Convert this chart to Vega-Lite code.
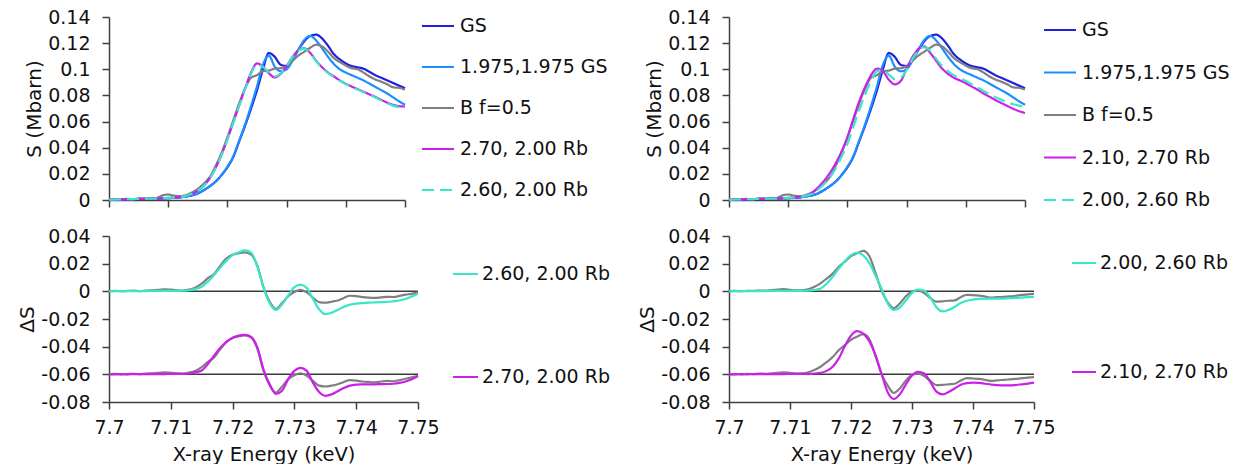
{
"$schema": "https://vega.github.io/schema/vega-lite/v6.json",
"background": "white",
"padding": {"left": 17, "top": 8, "right": 0, "bottom": 0},
"config": {
 "font": "DejaVu Sans",
 "view": {"stroke": null},
 "axis": {"grid": false, "domainColor": "#404040", "domainWidth": 1.5, "tickColor": "#404040", "tickWidth": 1.5, "tickSize": 7, "labelFont": "DejaVu Sans", "labelFontSize": 19, "labelColor": "#111111", "titleFont": "DejaVu Sans", "titleFontSize": 20, "titleFontWeight": "normal", "titleColor": "#111111", "labelOverlap": false, "labelBound": false},
 "axisY": {"labelPadding": 12, "titlePadding": 3},
 "axisX": {"labelPadding": 9, "titlePadding": 8, "titleFontSize": 19.5, "labelFlush": false},
 "legend": {"labelFont": "DejaVu Sans", "labelFontSize": 19, "labelColor": "#111111"}
},
"datasets": {
"common": [
{"s":"GS","x":7.7,"y":0},{"s":"GS","x":7.701,"y":0.0003},{"s":"GS","x":7.702,"y":0.0005},{"s":"GS","x":7.703,"y":0.0006},{"s":"GS","x":7.704,"y":0.0007},{"s":"GS","x":7.705,"y":0.0008},{"s":"GS","x":7.706,"y":0.0009},{"s":"GS","x":7.707,"y":0.001},{"s":"GS","x":7.708,"y":0.001},{"s":"GS","x":7.709,"y":0.0012},
{"s":"GS","x":7.71,"y":0.0014},{"s":"GS","x":7.711,"y":0.0017},{"s":"GS","x":7.712,"y":0.002},{"s":"GS","x":7.713,"y":0.0027},{"s":"GS","x":7.714,"y":0.0036},{"s":"GS","x":7.715,"y":0.005},{"s":"GS","x":7.716,"y":0.0075},{"s":"GS","x":7.717,"y":0.0105},{"s":"GS","x":7.718,"y":0.014},{"s":"GS","x":7.719,"y":0.019},
{"s":"GS","x":7.72,"y":0.025},{"s":"GS","x":7.721,"y":0.033},{"s":"GS","x":7.722,"y":0.045},{"s":"GS","x":7.723,"y":0.057},{"s":"GS","x":7.724,"y":0.07},{"s":"GS","x":7.725,"y":0.084},{"s":"GS","x":7.726,"y":0.1},{"s":"GS","x":7.727,"y":0.1125},{"s":"GS","x":7.728,"y":0.1095},{"s":"GS","x":7.729,"y":0.1035},
{"s":"GS","x":7.73,"y":0.1025},{"s":"GS","x":7.731,"y":0.1075},{"s":"GS","x":7.732,"y":0.115},{"s":"GS","x":7.733,"y":0.1215},{"s":"GS","x":7.734,"y":0.1255},{"s":"GS","x":7.735,"y":0.1265},{"s":"GS","x":7.736,"y":0.1235},{"s":"GS","x":7.737,"y":0.118},{"s":"GS","x":7.738,"y":0.1115},{"s":"GS","x":7.739,"y":0.1075},
{"s":"GS","x":7.74,"y":0.1045},{"s":"GS","x":7.741,"y":0.1025},{"s":"GS","x":7.742,"y":0.1015},{"s":"GS","x":7.743,"y":0.1005},{"s":"GS","x":7.744,"y":0.098},{"s":"GS","x":7.745,"y":0.0955},{"s":"GS","x":7.746,"y":0.0935},{"s":"GS","x":7.747,"y":0.0915},{"s":"GS","x":7.748,"y":0.0895},{"s":"GS","x":7.749,"y":0.0875},{"s":"GS","x":7.75,"y":0.0855},
{"s":"1.975,1.975 GS","x":7.7,"y":0},{"s":"1.975,1.975 GS","x":7.701,"y":0.0003},{"s":"1.975,1.975 GS","x":7.702,"y":0.0005},{"s":"1.975,1.975 GS","x":7.703,"y":0.0006},{"s":"1.975,1.975 GS","x":7.704,"y":0.0007},{"s":"1.975,1.975 GS","x":7.705,"y":0.0008},{"s":"1.975,1.975 GS","x":7.706,"y":0.0009},{"s":"1.975,1.975 GS","x":7.707,"y":0.001},{"s":"1.975,1.975 GS","x":7.708,"y":0.001},{"s":"1.975,1.975 GS","x":7.709,"y":0.0012},
{"s":"1.975,1.975 GS","x":7.71,"y":0.0014},{"s":"1.975,1.975 GS","x":7.711,"y":0.0017},{"s":"1.975,1.975 GS","x":7.712,"y":0.002},{"s":"1.975,1.975 GS","x":7.713,"y":0.0027},{"s":"1.975,1.975 GS","x":7.714,"y":0.0036},{"s":"1.975,1.975 GS","x":7.715,"y":0.005},{"s":"1.975,1.975 GS","x":7.716,"y":0.0075},{"s":"1.975,1.975 GS","x":7.717,"y":0.0105},{"s":"1.975,1.975 GS","x":7.718,"y":0.014},{"s":"1.975,1.975 GS","x":7.719,"y":0.019},
{"s":"1.975,1.975 GS","x":7.72,"y":0.0255},{"s":"1.975,1.975 GS","x":7.721,"y":0.0335},{"s":"1.975,1.975 GS","x":7.722,"y":0.0455},{"s":"1.975,1.975 GS","x":7.723,"y":0.058},{"s":"1.975,1.975 GS","x":7.724,"y":0.072},{"s":"1.975,1.975 GS","x":7.725,"y":0.087},{"s":"1.975,1.975 GS","x":7.726,"y":0.1035},{"s":"1.975,1.975 GS","x":7.727,"y":0.1105},{"s":"1.975,1.975 GS","x":7.728,"y":0.102},{"s":"1.975,1.975 GS","x":7.729,"y":0.0985},
{"s":"1.975,1.975 GS","x":7.73,"y":0.1},{"s":"1.975,1.975 GS","x":7.731,"y":0.1065},{"s":"1.975,1.975 GS","x":7.732,"y":0.115},{"s":"1.975,1.975 GS","x":7.733,"y":0.1225},{"s":"1.975,1.975 GS","x":7.734,"y":0.1255},{"s":"1.975,1.975 GS","x":7.735,"y":0.122},{"s":"1.975,1.975 GS","x":7.736,"y":0.116},{"s":"1.975,1.975 GS","x":7.737,"y":0.1095},{"s":"1.975,1.975 GS","x":7.738,"y":0.104},{"s":"1.975,1.975 GS","x":7.739,"y":0.1},
{"s":"1.975,1.975 GS","x":7.74,"y":0.0975},{"s":"1.975,1.975 GS","x":7.741,"y":0.0955},{"s":"1.975,1.975 GS","x":7.742,"y":0.0935},{"s":"1.975,1.975 GS","x":7.743,"y":0.0915},{"s":"1.975,1.975 GS","x":7.744,"y":0.089},{"s":"1.975,1.975 GS","x":7.745,"y":0.0865},{"s":"1.975,1.975 GS","x":7.746,"y":0.084},{"s":"1.975,1.975 GS","x":7.747,"y":0.0815},{"s":"1.975,1.975 GS","x":7.748,"y":0.0785},{"s":"1.975,1.975 GS","x":7.749,"y":0.0755},{"s":"1.975,1.975 GS","x":7.75,"y":0.0728},
{"s":"B f=0.5","x":7.7,"y":0.0003},{"s":"B f=0.5","x":7.701,"y":0.0005},{"s":"B f=0.5","x":7.702,"y":0.0006},{"s":"B f=0.5","x":7.703,"y":0.0008},{"s":"B f=0.5","x":7.704,"y":0.0007},{"s":"B f=0.5","x":7.705,"y":0.001},{"s":"B f=0.5","x":7.706,"y":0.0009},{"s":"B f=0.5","x":7.707,"y":0.0012},{"s":"B f=0.5","x":7.708,"y":0.0015},{"s":"B f=0.5","x":7.709,"y":0.0035},
{"s":"B f=0.5","x":7.71,"y":0.0042},{"s":"B f=0.5","x":7.711,"y":0.0033},{"s":"B f=0.5","x":7.712,"y":0.003},{"s":"B f=0.5","x":7.713,"y":0.0038},{"s":"B f=0.5","x":7.714,"y":0.0058},{"s":"B f=0.5","x":7.715,"y":0.0085},{"s":"B f=0.5","x":7.716,"y":0.0125},{"s":"B f=0.5","x":7.717,"y":0.0175},{"s":"B f=0.5","x":7.718,"y":0.026},{"s":"B f=0.5","x":7.719,"y":0.036},
{"s":"B f=0.5","x":7.72,"y":0.048},{"s":"B f=0.5","x":7.721,"y":0.061},{"s":"B f=0.5","x":7.722,"y":0.074},{"s":"B f=0.5","x":7.723,"y":0.0855},{"s":"B f=0.5","x":7.724,"y":0.0935},{"s":"B f=0.5","x":7.725,"y":0.0955},{"s":"B f=0.5","x":7.726,"y":0.0985},{"s":"B f=0.5","x":7.727,"y":0.099},{"s":"B f=0.5","x":7.728,"y":0.1005},{"s":"B f=0.5","x":7.729,"y":0.1008},
{"s":"B f=0.5","x":7.73,"y":0.1025},{"s":"B f=0.5","x":7.731,"y":0.1065},{"s":"B f=0.5","x":7.732,"y":0.1105},{"s":"B f=0.5","x":7.733,"y":0.1135},{"s":"B f=0.5","x":7.734,"y":0.1165},{"s":"B f=0.5","x":7.735,"y":0.1188},{"s":"B f=0.5","x":7.736,"y":0.1175},{"s":"B f=0.5","x":7.737,"y":0.1135},{"s":"B f=0.5","x":7.738,"y":0.1085},{"s":"B f=0.5","x":7.739,"y":0.1055},
{"s":"B f=0.5","x":7.74,"y":0.1028},{"s":"B f=0.5","x":7.741,"y":0.1008},{"s":"B f=0.5","x":7.742,"y":0.1},{"s":"B f=0.5","x":7.743,"y":0.0975},{"s":"B f=0.5","x":7.744,"y":0.0945},{"s":"B f=0.5","x":7.745,"y":0.0922},{"s":"B f=0.5","x":7.746,"y":0.0905},{"s":"B f=0.5","x":7.747,"y":0.0885},{"s":"B f=0.5","x":7.748,"y":0.0862},{"s":"B f=0.5","x":7.749,"y":0.0858},{"s":"B f=0.5","x":7.75,"y":0.0845}
],
"rbL": [
{"s":"2.70, 2.00 Rb","x":7.7,"y":0.0003},{"s":"2.70, 2.00 Rb","x":7.701,"y":0.0004},{"s":"2.70, 2.00 Rb","x":7.702,"y":0.0005},{"s":"2.70, 2.00 Rb","x":7.703,"y":0.0006},{"s":"2.70, 2.00 Rb","x":7.704,"y":0.0007},{"s":"2.70, 2.00 Rb","x":7.705,"y":0.0008},{"s":"2.70, 2.00 Rb","x":7.706,"y":0.0009},{"s":"2.70, 2.00 Rb","x":7.707,"y":0.001},{"s":"2.70, 2.00 Rb","x":7.708,"y":0.0011},{"s":"2.70, 2.00 Rb","x":7.709,"y":0.0013},
{"s":"2.70, 2.00 Rb","x":7.71,"y":0.0016},{"s":"2.70, 2.00 Rb","x":7.711,"y":0.002},{"s":"2.70, 2.00 Rb","x":7.712,"y":0.0025},{"s":"2.70, 2.00 Rb","x":7.713,"y":0.0032},{"s":"2.70, 2.00 Rb","x":7.714,"y":0.0048},{"s":"2.70, 2.00 Rb","x":7.715,"y":0.0072},{"s":"2.70, 2.00 Rb","x":7.716,"y":0.011},{"s":"2.70, 2.00 Rb","x":7.717,"y":0.0165},{"s":"2.70, 2.00 Rb","x":7.718,"y":0.0245},{"s":"2.70, 2.00 Rb","x":7.719,"y":0.0345},
{"s":"2.70, 2.00 Rb","x":7.72,"y":0.0465},{"s":"2.70, 2.00 Rb","x":7.721,"y":0.0595},{"s":"2.70, 2.00 Rb","x":7.722,"y":0.0725},{"s":"2.70, 2.00 Rb","x":7.723,"y":0.0855},{"s":"2.70, 2.00 Rb","x":7.724,"y":0.0975},{"s":"2.70, 2.00 Rb","x":7.725,"y":0.1045},{"s":"2.70, 2.00 Rb","x":7.726,"y":0.102},{"s":"2.70, 2.00 Rb","x":7.727,"y":0.097},{"s":"2.70, 2.00 Rb","x":7.728,"y":0.0938},{"s":"2.70, 2.00 Rb","x":7.729,"y":0.0965},
{"s":"2.70, 2.00 Rb","x":7.73,"y":0.1025},{"s":"2.70, 2.00 Rb","x":7.731,"y":0.1095},{"s":"2.70, 2.00 Rb","x":7.732,"y":0.1145},{"s":"2.70, 2.00 Rb","x":7.733,"y":0.116},{"s":"2.70, 2.00 Rb","x":7.734,"y":0.1125},{"s":"2.70, 2.00 Rb","x":7.735,"y":0.1065},{"s":"2.70, 2.00 Rb","x":7.736,"y":0.1015},{"s":"2.70, 2.00 Rb","x":7.737,"y":0.0975},{"s":"2.70, 2.00 Rb","x":7.738,"y":0.0945},{"s":"2.70, 2.00 Rb","x":7.739,"y":0.0915},
{"s":"2.70, 2.00 Rb","x":7.74,"y":0.089},{"s":"2.70, 2.00 Rb","x":7.741,"y":0.0868},{"s":"2.70, 2.00 Rb","x":7.742,"y":0.0848},{"s":"2.70, 2.00 Rb","x":7.743,"y":0.0828},{"s":"2.70, 2.00 Rb","x":7.744,"y":0.0808},{"s":"2.70, 2.00 Rb","x":7.745,"y":0.0788},{"s":"2.70, 2.00 Rb","x":7.746,"y":0.0766},{"s":"2.70, 2.00 Rb","x":7.747,"y":0.0745},{"s":"2.70, 2.00 Rb","x":7.748,"y":0.0728},{"s":"2.70, 2.00 Rb","x":7.749,"y":0.0718},{"s":"2.70, 2.00 Rb","x":7.75,"y":0.0715},
{"s":"2.60, 2.00 Rb","x":7.7,"y":0.0003},{"s":"2.60, 2.00 Rb","x":7.701,"y":0.0004},{"s":"2.60, 2.00 Rb","x":7.702,"y":0.0005},{"s":"2.60, 2.00 Rb","x":7.703,"y":0.0006},{"s":"2.60, 2.00 Rb","x":7.704,"y":0.0007},{"s":"2.60, 2.00 Rb","x":7.705,"y":0.0008},{"s":"2.60, 2.00 Rb","x":7.706,"y":0.0009},{"s":"2.60, 2.00 Rb","x":7.707,"y":0.001},{"s":"2.60, 2.00 Rb","x":7.708,"y":0.0011},{"s":"2.60, 2.00 Rb","x":7.709,"y":0.0013},
{"s":"2.60, 2.00 Rb","x":7.71,"y":0.0016},{"s":"2.60, 2.00 Rb","x":7.711,"y":0.002},{"s":"2.60, 2.00 Rb","x":7.712,"y":0.0025},{"s":"2.60, 2.00 Rb","x":7.713,"y":0.0032},{"s":"2.60, 2.00 Rb","x":7.714,"y":0.0047},{"s":"2.60, 2.00 Rb","x":7.715,"y":0.0071},{"s":"2.60, 2.00 Rb","x":7.716,"y":0.0108},{"s":"2.60, 2.00 Rb","x":7.717,"y":0.0163},{"s":"2.60, 2.00 Rb","x":7.718,"y":0.0243},{"s":"2.60, 2.00 Rb","x":7.719,"y":0.0343},
{"s":"2.60, 2.00 Rb","x":7.72,"y":0.0462},{"s":"2.60, 2.00 Rb","x":7.721,"y":0.0592},{"s":"2.60, 2.00 Rb","x":7.722,"y":0.0722},{"s":"2.60, 2.00 Rb","x":7.723,"y":0.0852},{"s":"2.60, 2.00 Rb","x":7.724,"y":0.0968},{"s":"2.60, 2.00 Rb","x":7.725,"y":0.1035},{"s":"2.60, 2.00 Rb","x":7.726,"y":0.1018},{"s":"2.60, 2.00 Rb","x":7.727,"y":0.0975},{"s":"2.60, 2.00 Rb","x":7.728,"y":0.0945},{"s":"2.60, 2.00 Rb","x":7.729,"y":0.0968},
{"s":"2.60, 2.00 Rb","x":7.73,"y":0.1025},{"s":"2.60, 2.00 Rb","x":7.731,"y":0.1092},{"s":"2.60, 2.00 Rb","x":7.732,"y":0.1142},{"s":"2.60, 2.00 Rb","x":7.733,"y":0.1158},{"s":"2.60, 2.00 Rb","x":7.734,"y":0.1122},{"s":"2.60, 2.00 Rb","x":7.735,"y":0.1062},{"s":"2.60, 2.00 Rb","x":7.736,"y":0.1012},{"s":"2.60, 2.00 Rb","x":7.737,"y":0.0972},{"s":"2.60, 2.00 Rb","x":7.738,"y":0.0942},{"s":"2.60, 2.00 Rb","x":7.739,"y":0.0912},
{"s":"2.60, 2.00 Rb","x":7.74,"y":0.0887},{"s":"2.60, 2.00 Rb","x":7.741,"y":0.0865},{"s":"2.60, 2.00 Rb","x":7.742,"y":0.0845},{"s":"2.60, 2.00 Rb","x":7.743,"y":0.0825},{"s":"2.60, 2.00 Rb","x":7.744,"y":0.0805},{"s":"2.60, 2.00 Rb","x":7.745,"y":0.0784},{"s":"2.60, 2.00 Rb","x":7.746,"y":0.0762},{"s":"2.60, 2.00 Rb","x":7.747,"y":0.0741},{"s":"2.60, 2.00 Rb","x":7.748,"y":0.0722},{"s":"2.60, 2.00 Rb","x":7.749,"y":0.071},{"s":"2.60, 2.00 Rb","x":7.75,"y":0.0705}
],
"rbR": [
{"s":"2.10, 2.70 Rb","x":7.7,"y":0.0003},{"s":"2.10, 2.70 Rb","x":7.701,"y":0.0004},{"s":"2.10, 2.70 Rb","x":7.702,"y":0.0005},{"s":"2.10, 2.70 Rb","x":7.703,"y":0.0006},{"s":"2.10, 2.70 Rb","x":7.704,"y":0.0007},{"s":"2.10, 2.70 Rb","x":7.705,"y":0.0008},{"s":"2.10, 2.70 Rb","x":7.706,"y":0.0009},{"s":"2.10, 2.70 Rb","x":7.707,"y":0.001},{"s":"2.10, 2.70 Rb","x":7.708,"y":0.0011},{"s":"2.10, 2.70 Rb","x":7.709,"y":0.0013},
{"s":"2.10, 2.70 Rb","x":7.71,"y":0.0016},{"s":"2.10, 2.70 Rb","x":7.711,"y":0.002},{"s":"2.10, 2.70 Rb","x":7.712,"y":0.0025},{"s":"2.10, 2.70 Rb","x":7.713,"y":0.0035},{"s":"2.10, 2.70 Rb","x":7.714,"y":0.0055},{"s":"2.10, 2.70 Rb","x":7.715,"y":0.0095},{"s":"2.10, 2.70 Rb","x":7.716,"y":0.0145},{"s":"2.10, 2.70 Rb","x":7.717,"y":0.0205},{"s":"2.10, 2.70 Rb","x":7.718,"y":0.028},{"s":"2.10, 2.70 Rb","x":7.719,"y":0.037},
{"s":"2.10, 2.70 Rb","x":7.72,"y":0.048},{"s":"2.10, 2.70 Rb","x":7.721,"y":0.062},{"s":"2.10, 2.70 Rb","x":7.722,"y":0.0755},{"s":"2.10, 2.70 Rb","x":7.723,"y":0.0865},{"s":"2.10, 2.70 Rb","x":7.724,"y":0.0955},{"s":"2.10, 2.70 Rb","x":7.725,"y":0.1005},{"s":"2.10, 2.70 Rb","x":7.726,"y":0.0985},{"s":"2.10, 2.70 Rb","x":7.727,"y":0.092},{"s":"2.10, 2.70 Rb","x":7.728,"y":0.0885},{"s":"2.10, 2.70 Rb","x":7.729,"y":0.091},
{"s":"2.10, 2.70 Rb","x":7.73,"y":0.1005},{"s":"2.10, 2.70 Rb","x":7.731,"y":0.1095},{"s":"2.10, 2.70 Rb","x":7.732,"y":0.1155},{"s":"2.10, 2.70 Rb","x":7.733,"y":0.1175},{"s":"2.10, 2.70 Rb","x":7.734,"y":0.1125},{"s":"2.10, 2.70 Rb","x":7.735,"y":0.1065},{"s":"2.10, 2.70 Rb","x":7.736,"y":0.1005},{"s":"2.10, 2.70 Rb","x":7.737,"y":0.0965},{"s":"2.10, 2.70 Rb","x":7.738,"y":0.0935},{"s":"2.10, 2.70 Rb","x":7.739,"y":0.0915},
{"s":"2.10, 2.70 Rb","x":7.74,"y":0.0893},{"s":"2.10, 2.70 Rb","x":7.741,"y":0.0868},{"s":"2.10, 2.70 Rb","x":7.742,"y":0.0843},{"s":"2.10, 2.70 Rb","x":7.743,"y":0.0815},{"s":"2.10, 2.70 Rb","x":7.744,"y":0.079},{"s":"2.10, 2.70 Rb","x":7.745,"y":0.0765},{"s":"2.10, 2.70 Rb","x":7.746,"y":0.0742},{"s":"2.10, 2.70 Rb","x":7.747,"y":0.072},{"s":"2.10, 2.70 Rb","x":7.748,"y":0.0698},{"s":"2.10, 2.70 Rb","x":7.749,"y":0.068},{"s":"2.10, 2.70 Rb","x":7.75,"y":0.0666},
{"s":"2.00, 2.60 Rb","x":7.7,"y":0.0003},{"s":"2.00, 2.60 Rb","x":7.701,"y":0.0004},{"s":"2.00, 2.60 Rb","x":7.702,"y":0.0005},{"s":"2.00, 2.60 Rb","x":7.703,"y":0.0006},{"s":"2.00, 2.60 Rb","x":7.704,"y":0.0007},{"s":"2.00, 2.60 Rb","x":7.705,"y":0.0008},{"s":"2.00, 2.60 Rb","x":7.706,"y":0.0009},{"s":"2.00, 2.60 Rb","x":7.707,"y":0.001},{"s":"2.00, 2.60 Rb","x":7.708,"y":0.0011},{"s":"2.00, 2.60 Rb","x":7.709,"y":0.0013},
{"s":"2.00, 2.60 Rb","x":7.71,"y":0.0016},{"s":"2.00, 2.60 Rb","x":7.711,"y":0.002},{"s":"2.00, 2.60 Rb","x":7.712,"y":0.0025},{"s":"2.00, 2.60 Rb","x":7.713,"y":0.0032},{"s":"2.00, 2.60 Rb","x":7.714,"y":0.0048},{"s":"2.00, 2.60 Rb","x":7.715,"y":0.0078},{"s":"2.00, 2.60 Rb","x":7.716,"y":0.012},{"s":"2.00, 2.60 Rb","x":7.717,"y":0.017},{"s":"2.00, 2.60 Rb","x":7.718,"y":0.024},{"s":"2.00, 2.60 Rb","x":7.719,"y":0.033},
{"s":"2.00, 2.60 Rb","x":7.72,"y":0.043},{"s":"2.00, 2.60 Rb","x":7.721,"y":0.056},{"s":"2.00, 2.60 Rb","x":7.722,"y":0.069},{"s":"2.00, 2.60 Rb","x":7.723,"y":0.081},{"s":"2.00, 2.60 Rb","x":7.724,"y":0.091},{"s":"2.00, 2.60 Rb","x":7.725,"y":0.0985},{"s":"2.00, 2.60 Rb","x":7.726,"y":0.0995},{"s":"2.00, 2.60 Rb","x":7.727,"y":0.096},{"s":"2.00, 2.60 Rb","x":7.728,"y":0.0925},{"s":"2.00, 2.60 Rb","x":7.729,"y":0.0935},
{"s":"2.00, 2.60 Rb","x":7.73,"y":0.0995},{"s":"2.00, 2.60 Rb","x":7.731,"y":0.108},{"s":"2.00, 2.60 Rb","x":7.732,"y":0.1145},{"s":"2.00, 2.60 Rb","x":7.733,"y":0.117},{"s":"2.00, 2.60 Rb","x":7.734,"y":0.114},{"s":"2.00, 2.60 Rb","x":7.735,"y":0.108},{"s":"2.00, 2.60 Rb","x":7.736,"y":0.1025},{"s":"2.00, 2.60 Rb","x":7.737,"y":0.0985},{"s":"2.00, 2.60 Rb","x":7.738,"y":0.0955},{"s":"2.00, 2.60 Rb","x":7.739,"y":0.0932},
{"s":"2.00, 2.60 Rb","x":7.74,"y":0.091},{"s":"2.00, 2.60 Rb","x":7.741,"y":0.0885},{"s":"2.00, 2.60 Rb","x":7.742,"y":0.086},{"s":"2.00, 2.60 Rb","x":7.743,"y":0.0835},{"s":"2.00, 2.60 Rb","x":7.744,"y":0.081},{"s":"2.00, 2.60 Rb","x":7.745,"y":0.0787},{"s":"2.00, 2.60 Rb","x":7.746,"y":0.0767},{"s":"2.00, 2.60 Rb","x":7.747,"y":0.0748},{"s":"2.00, 2.60 Rb","x":7.748,"y":0.0732},{"s":"2.00, 2.60 Rb","x":7.749,"y":0.0722},{"s":"2.00, 2.60 Rb","x":7.75,"y":0.0716}
],
"botL": [
{"s":"B f=0.5","g":"u","x":7.7,"y":0.0002},{"s":"B f=0.5","g":"u","x":7.701,"y":0.0004},{"s":"B f=0.5","g":"u","x":7.702,"y":0.0001},{"s":"B f=0.5","g":"u","x":7.703,"y":0.0003},{"s":"B f=0.5","g":"u","x":7.704,"y":0.0005},{"s":"B f=0.5","g":"u","x":7.705,"y":0.0002},{"s":"B f=0.5","g":"u","x":7.706,"y":0.0006},{"s":"B f=0.5","g":"u","x":7.707,"y":0.0008},{"s":"B f=0.5","g":"u","x":7.708,"y":0.001},{"s":"B f=0.5","g":"u","x":7.709,"y":0.0015},
{"s":"B f=0.5","g":"u","x":7.71,"y":0.0012},{"s":"B f=0.5","g":"u","x":7.711,"y":0.0008},{"s":"B f=0.5","g":"u","x":7.712,"y":0.0006},{"s":"B f=0.5","g":"u","x":7.713,"y":0.0012},{"s":"B f=0.5","g":"u","x":7.714,"y":0.0028},{"s":"B f=0.5","g":"u","x":7.715,"y":0.0055},{"s":"B f=0.5","g":"u","x":7.716,"y":0.0095},{"s":"B f=0.5","g":"u","x":7.717,"y":0.0125},{"s":"B f=0.5","g":"u","x":7.718,"y":0.0185},{"s":"B f=0.5","g":"u","x":7.719,"y":0.0238},
{"s":"B f=0.5","g":"u","x":7.72,"y":0.0265},{"s":"B f=0.5","g":"u","x":7.721,"y":0.0275},{"s":"B f=0.5","g":"u","x":7.722,"y":0.0282},{"s":"B f=0.5","g":"u","x":7.723,"y":0.0265},{"s":"B f=0.5","g":"u","x":7.724,"y":0.0185},{"s":"B f=0.5","g":"u","x":7.725,"y":0.003},{"s":"B f=0.5","g":"u","x":7.726,"y":-0.0075},{"s":"B f=0.5","g":"u","x":7.727,"y":-0.0128},{"s":"B f=0.5","g":"u","x":7.728,"y":-0.0085},{"s":"B f=0.5","g":"u","x":7.729,"y":-0.0035},
{"s":"B f=0.5","g":"u","x":7.73,"y":-0.0005},{"s":"B f=0.5","g":"u","x":7.731,"y":0.0011},{"s":"B f=0.5","g":"u","x":7.732,"y":-0.0008},{"s":"B f=0.5","g":"u","x":7.733,"y":-0.0045},{"s":"B f=0.5","g":"u","x":7.734,"y":-0.0078},{"s":"B f=0.5","g":"u","x":7.735,"y":-0.0082},{"s":"B f=0.5","g":"u","x":7.736,"y":-0.0075},{"s":"B f=0.5","g":"u","x":7.737,"y":-0.0066},{"s":"B f=0.5","g":"u","x":7.738,"y":-0.0048},{"s":"B f=0.5","g":"u","x":7.739,"y":-0.0032},
{"s":"B f=0.5","g":"u","x":7.74,"y":-0.0035},{"s":"B f=0.5","g":"u","x":7.741,"y":-0.0042},{"s":"B f=0.5","g":"u","x":7.742,"y":-0.0046},{"s":"B f=0.5","g":"u","x":7.743,"y":-0.0048},{"s":"B f=0.5","g":"u","x":7.744,"y":-0.0044},{"s":"B f=0.5","g":"u","x":7.745,"y":-0.004},{"s":"B f=0.5","g":"u","x":7.746,"y":-0.0041},{"s":"B f=0.5","g":"u","x":7.747,"y":-0.0033},{"s":"B f=0.5","g":"u","x":7.748,"y":-0.0024},{"s":"B f=0.5","g":"u","x":7.749,"y":-0.0018},{"s":"B f=0.5","g":"u","x":7.75,"y":-0.0008},
{"s":"2.60, 2.00 Rb","g":"c","x":7.7,"y":0},{"s":"2.60, 2.00 Rb","g":"c","x":7.701,"y":0.0001},{"s":"2.60, 2.00 Rb","g":"c","x":7.702,"y":0.0001},{"s":"2.60, 2.00 Rb","g":"c","x":7.703,"y":0.0002},{"s":"2.60, 2.00 Rb","g":"c","x":7.704,"y":0.0001},{"s":"2.60, 2.00 Rb","g":"c","x":7.705,"y":0.0002},{"s":"2.60, 2.00 Rb","g":"c","x":7.706,"y":0.0002},{"s":"2.60, 2.00 Rb","g":"c","x":7.707,"y":0.0003},{"s":"2.60, 2.00 Rb","g":"c","x":7.708,"y":0.0003},{"s":"2.60, 2.00 Rb","g":"c","x":7.709,"y":0.0004},
{"s":"2.60, 2.00 Rb","g":"c","x":7.71,"y":0.0004},{"s":"2.60, 2.00 Rb","g":"c","x":7.711,"y":0.0004},{"s":"2.60, 2.00 Rb","g":"c","x":7.712,"y":0.0005},{"s":"2.60, 2.00 Rb","g":"c","x":7.713,"y":0.0008},{"s":"2.60, 2.00 Rb","g":"c","x":7.714,"y":0.0018},{"s":"2.60, 2.00 Rb","g":"c","x":7.715,"y":0.0033},{"s":"2.60, 2.00 Rb","g":"c","x":7.716,"y":0.007},{"s":"2.60, 2.00 Rb","g":"c","x":7.717,"y":0.0118},{"s":"2.60, 2.00 Rb","g":"c","x":7.718,"y":0.0172},{"s":"2.60, 2.00 Rb","g":"c","x":7.719,"y":0.0222},
{"s":"2.60, 2.00 Rb","g":"c","x":7.72,"y":0.0262},{"s":"2.60, 2.00 Rb","g":"c","x":7.721,"y":0.0282},{"s":"2.60, 2.00 Rb","g":"c","x":7.722,"y":0.0296},{"s":"2.60, 2.00 Rb","g":"c","x":7.723,"y":0.028},{"s":"2.60, 2.00 Rb","g":"c","x":7.724,"y":0.018},{"s":"2.60, 2.00 Rb","g":"c","x":7.725,"y":0.0025},{"s":"2.60, 2.00 Rb","g":"c","x":7.726,"y":-0.0085},{"s":"2.60, 2.00 Rb","g":"c","x":7.727,"y":-0.0135},{"s":"2.60, 2.00 Rb","g":"c","x":7.728,"y":-0.0095},{"s":"2.60, 2.00 Rb","g":"c","x":7.729,"y":-0.003},
{"s":"2.60, 2.00 Rb","g":"c","x":7.73,"y":0.003},{"s":"2.60, 2.00 Rb","g":"c","x":7.731,"y":0.0048},{"s":"2.60, 2.00 Rb","g":"c","x":7.732,"y":0.0025},{"s":"2.60, 2.00 Rb","g":"c","x":7.733,"y":-0.0055},{"s":"2.60, 2.00 Rb","g":"c","x":7.734,"y":-0.013},{"s":"2.60, 2.00 Rb","g":"c","x":7.735,"y":-0.0165},{"s":"2.60, 2.00 Rb","g":"c","x":7.736,"y":-0.0155},{"s":"2.60, 2.00 Rb","g":"c","x":7.737,"y":-0.0135},{"s":"2.60, 2.00 Rb","g":"c","x":7.738,"y":-0.0112},{"s":"2.60, 2.00 Rb","g":"c","x":7.739,"y":-0.0096},
{"s":"2.60, 2.00 Rb","g":"c","x":7.74,"y":-0.0089},{"s":"2.60, 2.00 Rb","g":"c","x":7.741,"y":-0.0085},{"s":"2.60, 2.00 Rb","g":"c","x":7.742,"y":-0.0082},{"s":"2.60, 2.00 Rb","g":"c","x":7.743,"y":-0.008},{"s":"2.60, 2.00 Rb","g":"c","x":7.744,"y":-0.0078},{"s":"2.60, 2.00 Rb","g":"c","x":7.745,"y":-0.0077},{"s":"2.60, 2.00 Rb","g":"c","x":7.746,"y":-0.0072},{"s":"2.60, 2.00 Rb","g":"c","x":7.747,"y":-0.0066},{"s":"2.60, 2.00 Rb","g":"c","x":7.748,"y":-0.0055},{"s":"2.60, 2.00 Rb","g":"c","x":7.749,"y":-0.0038},{"s":"2.60, 2.00 Rb","g":"c","x":7.75,"y":-0.0018},
{"s":"B f=0.5","g":"l","x":7.7,"y":-0.0599},{"s":"B f=0.5","g":"l","x":7.701,"y":-0.0597},{"s":"B f=0.5","g":"l","x":7.702,"y":-0.06},{"s":"B f=0.5","g":"l","x":7.703,"y":-0.0598},{"s":"B f=0.5","g":"l","x":7.704,"y":-0.0596},{"s":"B f=0.5","g":"l","x":7.705,"y":-0.0599},{"s":"B f=0.5","g":"l","x":7.706,"y":-0.0594},{"s":"B f=0.5","g":"l","x":7.707,"y":-0.0593},{"s":"B f=0.5","g":"l","x":7.708,"y":-0.059},{"s":"B f=0.5","g":"l","x":7.709,"y":-0.0586},
{"s":"B f=0.5","g":"l","x":7.71,"y":-0.0589},{"s":"B f=0.5","g":"l","x":7.711,"y":-0.0592},{"s":"B f=0.5","g":"l","x":7.712,"y":-0.0595},{"s":"B f=0.5","g":"l","x":7.713,"y":-0.0588},{"s":"B f=0.5","g":"l","x":7.714,"y":-0.0574},{"s":"B f=0.5","g":"l","x":7.715,"y":-0.0548},{"s":"B f=0.5","g":"l","x":7.716,"y":-0.051},{"s":"B f=0.5","g":"l","x":7.717,"y":-0.0478},{"s":"B f=0.5","g":"l","x":7.718,"y":-0.0418},{"s":"B f=0.5","g":"l","x":7.719,"y":-0.0365},
{"s":"B f=0.5","g":"l","x":7.72,"y":-0.0338},{"s":"B f=0.5","g":"l","x":7.721,"y":-0.0325},{"s":"B f=0.5","g":"l","x":7.722,"y":-0.0318},{"s":"B f=0.5","g":"l","x":7.723,"y":-0.0332},{"s":"B f=0.5","g":"l","x":7.724,"y":-0.0415},{"s":"B f=0.5","g":"l","x":7.725,"y":-0.0575},{"s":"B f=0.5","g":"l","x":7.726,"y":-0.068},{"s":"B f=0.5","g":"l","x":7.727,"y":-0.0732},{"s":"B f=0.5","g":"l","x":7.728,"y":-0.0688},{"s":"B f=0.5","g":"l","x":7.729,"y":-0.0635},
{"s":"B f=0.5","g":"l","x":7.73,"y":-0.0606},{"s":"B f=0.5","g":"l","x":7.731,"y":-0.0592},{"s":"B f=0.5","g":"l","x":7.732,"y":-0.061},{"s":"B f=0.5","g":"l","x":7.733,"y":-0.0648},{"s":"B f=0.5","g":"l","x":7.734,"y":-0.0682},{"s":"B f=0.5","g":"l","x":7.735,"y":-0.0688},{"s":"B f=0.5","g":"l","x":7.736,"y":-0.0682},{"s":"B f=0.5","g":"l","x":7.737,"y":-0.0672},{"s":"B f=0.5","g":"l","x":7.738,"y":-0.0655},{"s":"B f=0.5","g":"l","x":7.739,"y":-0.0642},
{"s":"B f=0.5","g":"l","x":7.74,"y":-0.0645},{"s":"B f=0.5","g":"l","x":7.741,"y":-0.0652},{"s":"B f=0.5","g":"l","x":7.742,"y":-0.0655},{"s":"B f=0.5","g":"l","x":7.743,"y":-0.0658},{"s":"B f=0.5","g":"l","x":7.744,"y":-0.0652},{"s":"B f=0.5","g":"l","x":7.745,"y":-0.0648},{"s":"B f=0.5","g":"l","x":7.746,"y":-0.065},{"s":"B f=0.5","g":"l","x":7.747,"y":-0.0642},{"s":"B f=0.5","g":"l","x":7.748,"y":-0.0632},{"s":"B f=0.5","g":"l","x":7.749,"y":-0.0622},{"s":"B f=0.5","g":"l","x":7.75,"y":-0.0612},
{"s":"2.70, 2.00 Rb","g":"m","x":7.7,"y":-0.06},{"s":"2.70, 2.00 Rb","g":"m","x":7.701,"y":-0.06},{"s":"2.70, 2.00 Rb","g":"m","x":7.702,"y":-0.0599},{"s":"2.70, 2.00 Rb","g":"m","x":7.703,"y":-0.06},{"s":"2.70, 2.00 Rb","g":"m","x":7.704,"y":-0.0599},{"s":"2.70, 2.00 Rb","g":"m","x":7.705,"y":-0.0599},{"s":"2.70, 2.00 Rb","g":"m","x":7.706,"y":-0.0599},{"s":"2.70, 2.00 Rb","g":"m","x":7.707,"y":-0.0598},{"s":"2.70, 2.00 Rb","g":"m","x":7.708,"y":-0.0598},{"s":"2.70, 2.00 Rb","g":"m","x":7.709,"y":-0.0598},
{"s":"2.70, 2.00 Rb","g":"m","x":7.71,"y":-0.0597},{"s":"2.70, 2.00 Rb","g":"m","x":7.711,"y":-0.0597},{"s":"2.70, 2.00 Rb","g":"m","x":7.712,"y":-0.0596},{"s":"2.70, 2.00 Rb","g":"m","x":7.713,"y":-0.0594},{"s":"2.70, 2.00 Rb","g":"m","x":7.714,"y":-0.0585},{"s":"2.70, 2.00 Rb","g":"m","x":7.715,"y":-0.0572},{"s":"2.70, 2.00 Rb","g":"m","x":7.716,"y":-0.0525},{"s":"2.70, 2.00 Rb","g":"m","x":7.717,"y":-0.0465},{"s":"2.70, 2.00 Rb","g":"m","x":7.718,"y":-0.041},{"s":"2.70, 2.00 Rb","g":"m","x":7.719,"y":-0.0365},
{"s":"2.70, 2.00 Rb","g":"m","x":7.72,"y":-0.0335},{"s":"2.70, 2.00 Rb","g":"m","x":7.721,"y":-0.032},{"s":"2.70, 2.00 Rb","g":"m","x":7.722,"y":-0.0315},{"s":"2.70, 2.00 Rb","g":"m","x":7.723,"y":-0.033},{"s":"2.70, 2.00 Rb","g":"m","x":7.724,"y":-0.0405},{"s":"2.70, 2.00 Rb","g":"m","x":7.725,"y":-0.0565},{"s":"2.70, 2.00 Rb","g":"m","x":7.726,"y":-0.0672},{"s":"2.70, 2.00 Rb","g":"m","x":7.727,"y":-0.0742},{"s":"2.70, 2.00 Rb","g":"m","x":7.728,"y":-0.0718},{"s":"2.70, 2.00 Rb","g":"m","x":7.729,"y":-0.0635},
{"s":"2.70, 2.00 Rb","g":"m","x":7.73,"y":-0.0575},{"s":"2.70, 2.00 Rb","g":"m","x":7.731,"y":-0.0553},{"s":"2.70, 2.00 Rb","g":"m","x":7.732,"y":-0.0575},{"s":"2.70, 2.00 Rb","g":"m","x":7.733,"y":-0.066},{"s":"2.70, 2.00 Rb","g":"m","x":7.734,"y":-0.0728},{"s":"2.70, 2.00 Rb","g":"m","x":7.735,"y":-0.0755},{"s":"2.70, 2.00 Rb","g":"m","x":7.736,"y":-0.0745},{"s":"2.70, 2.00 Rb","g":"m","x":7.737,"y":-0.0722},{"s":"2.70, 2.00 Rb","g":"m","x":7.738,"y":-0.0698},{"s":"2.70, 2.00 Rb","g":"m","x":7.739,"y":-0.0682},
{"s":"2.70, 2.00 Rb","g":"m","x":7.74,"y":-0.0675},{"s":"2.70, 2.00 Rb","g":"m","x":7.741,"y":-0.0673},{"s":"2.70, 2.00 Rb","g":"m","x":7.742,"y":-0.0672},{"s":"2.70, 2.00 Rb","g":"m","x":7.743,"y":-0.0672},{"s":"2.70, 2.00 Rb","g":"m","x":7.744,"y":-0.0671},{"s":"2.70, 2.00 Rb","g":"m","x":7.745,"y":-0.067},{"s":"2.70, 2.00 Rb","g":"m","x":7.746,"y":-0.0668},{"s":"2.70, 2.00 Rb","g":"m","x":7.747,"y":-0.0662},{"s":"2.70, 2.00 Rb","g":"m","x":7.748,"y":-0.0652},{"s":"2.70, 2.00 Rb","g":"m","x":7.749,"y":-0.0635},{"s":"2.70, 2.00 Rb","g":"m","x":7.75,"y":-0.0612}
],
"botR": [
{"s":"B f=0.5","g":"u","x":7.7,"y":0.0002},{"s":"B f=0.5","g":"u","x":7.701,"y":0.0003},{"s":"B f=0.5","g":"u","x":7.702,"y":0.0001},{"s":"B f=0.5","g":"u","x":7.703,"y":0.0004},{"s":"B f=0.5","g":"u","x":7.704,"y":0.0003},{"s":"B f=0.5","g":"u","x":7.705,"y":0.0006},{"s":"B f=0.5","g":"u","x":7.706,"y":0.0005},{"s":"B f=0.5","g":"u","x":7.707,"y":0.0009},{"s":"B f=0.5","g":"u","x":7.708,"y":0.0012},{"s":"B f=0.5","g":"u","x":7.709,"y":0.0016},
{"s":"B f=0.5","g":"u","x":7.71,"y":0.0011},{"s":"B f=0.5","g":"u","x":7.711,"y":0.0007},{"s":"B f=0.5","g":"u","x":7.712,"y":0.0008},{"s":"B f=0.5","g":"u","x":7.713,"y":0.0015},{"s":"B f=0.5","g":"u","x":7.714,"y":0.0033},{"s":"B f=0.5","g":"u","x":7.715,"y":0.0058},{"s":"B f=0.5","g":"u","x":7.716,"y":0.0092},{"s":"B f=0.5","g":"u","x":7.717,"y":0.0128},{"s":"B f=0.5","g":"u","x":7.718,"y":0.0178},{"s":"B f=0.5","g":"u","x":7.719,"y":0.0215},
{"s":"B f=0.5","g":"u","x":7.72,"y":0.0255},{"s":"B f=0.5","g":"u","x":7.721,"y":0.0275},{"s":"B f=0.5","g":"u","x":7.722,"y":0.0292},{"s":"B f=0.5","g":"u","x":7.723,"y":0.0255},{"s":"B f=0.5","g":"u","x":7.724,"y":0.0135},{"s":"B f=0.5","g":"u","x":7.725,"y":0.0005},{"s":"B f=0.5","g":"u","x":7.726,"y":-0.0078},{"s":"B f=0.5","g":"u","x":7.727,"y":-0.0122},{"s":"B f=0.5","g":"u","x":7.728,"y":-0.0088},{"s":"B f=0.5","g":"u","x":7.729,"y":-0.0035},
{"s":"B f=0.5","g":"u","x":7.73,"y":-0.0002},{"s":"B f=0.5","g":"u","x":7.731,"y":0.0007},{"s":"B f=0.5","g":"u","x":7.732,"y":-0.0012},{"s":"B f=0.5","g":"u","x":7.733,"y":-0.0048},{"s":"B f=0.5","g":"u","x":7.734,"y":-0.0075},{"s":"B f=0.5","g":"u","x":7.735,"y":-0.0072},{"s":"B f=0.5","g":"u","x":7.736,"y":-0.0068},{"s":"B f=0.5","g":"u","x":7.737,"y":-0.0065},{"s":"B f=0.5","g":"u","x":7.738,"y":-0.0042},{"s":"B f=0.5","g":"u","x":7.739,"y":-0.0025},
{"s":"B f=0.5","g":"u","x":7.74,"y":-0.0027},{"s":"B f=0.5","g":"u","x":7.741,"y":-0.0031},{"s":"B f=0.5","g":"u","x":7.742,"y":-0.0038},{"s":"B f=0.5","g":"u","x":7.743,"y":-0.0046},{"s":"B f=0.5","g":"u","x":7.744,"y":-0.0042},{"s":"B f=0.5","g":"u","x":7.745,"y":-0.004},{"s":"B f=0.5","g":"u","x":7.746,"y":-0.0037},{"s":"B f=0.5","g":"u","x":7.747,"y":-0.0032},{"s":"B f=0.5","g":"u","x":7.748,"y":-0.0026},{"s":"B f=0.5","g":"u","x":7.749,"y":-0.0022},{"s":"B f=0.5","g":"u","x":7.75,"y":-0.0018},
{"s":"2.00, 2.60 Rb","g":"c","x":7.7,"y":0},{"s":"2.00, 2.60 Rb","g":"c","x":7.701,"y":0.0001},{"s":"2.00, 2.60 Rb","g":"c","x":7.702,"y":0.0001},{"s":"2.00, 2.60 Rb","g":"c","x":7.703,"y":0.0001},{"s":"2.00, 2.60 Rb","g":"c","x":7.704,"y":0.0002},{"s":"2.00, 2.60 Rb","g":"c","x":7.705,"y":0.0002},{"s":"2.00, 2.60 Rb","g":"c","x":7.706,"y":0.0002},{"s":"2.00, 2.60 Rb","g":"c","x":7.707,"y":0.0003},{"s":"2.00, 2.60 Rb","g":"c","x":7.708,"y":0.0003},{"s":"2.00, 2.60 Rb","g":"c","x":7.709,"y":0.0003},
{"s":"2.00, 2.60 Rb","g":"c","x":7.71,"y":0.0004},{"s":"2.00, 2.60 Rb","g":"c","x":7.711,"y":0.0004},{"s":"2.00, 2.60 Rb","g":"c","x":7.712,"y":0.0004},{"s":"2.00, 2.60 Rb","g":"c","x":7.713,"y":0.0005},{"s":"2.00, 2.60 Rb","g":"c","x":7.714,"y":0.001},{"s":"2.00, 2.60 Rb","g":"c","x":7.715,"y":0.002},{"s":"2.00, 2.60 Rb","g":"c","x":7.716,"y":0.0055},{"s":"2.00, 2.60 Rb","g":"c","x":7.717,"y":0.0105},{"s":"2.00, 2.60 Rb","g":"c","x":7.718,"y":0.0165},{"s":"2.00, 2.60 Rb","g":"c","x":7.719,"y":0.0218},
{"s":"2.00, 2.60 Rb","g":"c","x":7.72,"y":0.0262},{"s":"2.00, 2.60 Rb","g":"c","x":7.721,"y":0.028},{"s":"2.00, 2.60 Rb","g":"c","x":7.722,"y":0.026},{"s":"2.00, 2.60 Rb","g":"c","x":7.723,"y":0.0205},{"s":"2.00, 2.60 Rb","g":"c","x":7.724,"y":0.0115},{"s":"2.00, 2.60 Rb","g":"c","x":7.725,"y":0.002},{"s":"2.00, 2.60 Rb","g":"c","x":7.726,"y":-0.0085},{"s":"2.00, 2.60 Rb","g":"c","x":7.727,"y":-0.0135},{"s":"2.00, 2.60 Rb","g":"c","x":7.728,"y":-0.0118},{"s":"2.00, 2.60 Rb","g":"c","x":7.729,"y":-0.0065},
{"s":"2.00, 2.60 Rb","g":"c","x":7.73,"y":-0.0012},{"s":"2.00, 2.60 Rb","g":"c","x":7.731,"y":0.0012},{"s":"2.00, 2.60 Rb","g":"c","x":7.732,"y":0.0004},{"s":"2.00, 2.60 Rb","g":"c","x":7.733,"y":-0.0045},{"s":"2.00, 2.60 Rb","g":"c","x":7.734,"y":-0.0115},{"s":"2.00, 2.60 Rb","g":"c","x":7.735,"y":-0.0145},{"s":"2.00, 2.60 Rb","g":"c","x":7.736,"y":-0.0135},{"s":"2.00, 2.60 Rb","g":"c","x":7.737,"y":-0.0112},{"s":"2.00, 2.60 Rb","g":"c","x":7.738,"y":-0.0085},{"s":"2.00, 2.60 Rb","g":"c","x":7.739,"y":-0.0068},
{"s":"2.00, 2.60 Rb","g":"c","x":7.74,"y":-0.006},{"s":"2.00, 2.60 Rb","g":"c","x":7.741,"y":-0.0055},{"s":"2.00, 2.60 Rb","g":"c","x":7.742,"y":-0.0053},{"s":"2.00, 2.60 Rb","g":"c","x":7.743,"y":-0.0053},{"s":"2.00, 2.60 Rb","g":"c","x":7.744,"y":-0.0053},{"s":"2.00, 2.60 Rb","g":"c","x":7.745,"y":-0.0052},{"s":"2.00, 2.60 Rb","g":"c","x":7.746,"y":-0.005},{"s":"2.00, 2.60 Rb","g":"c","x":7.747,"y":-0.0048},{"s":"2.00, 2.60 Rb","g":"c","x":7.748,"y":-0.0045},{"s":"2.00, 2.60 Rb","g":"c","x":7.749,"y":-0.0042},{"s":"2.00, 2.60 Rb","g":"c","x":7.75,"y":-0.004},
{"s":"B f=0.5","g":"l","x":7.7,"y":-0.0599},{"s":"B f=0.5","g":"l","x":7.701,"y":-0.0598},{"s":"B f=0.5","g":"l","x":7.702,"y":-0.06},{"s":"B f=0.5","g":"l","x":7.703,"y":-0.0597},{"s":"B f=0.5","g":"l","x":7.704,"y":-0.0598},{"s":"B f=0.5","g":"l","x":7.705,"y":-0.0595},{"s":"B f=0.5","g":"l","x":7.706,"y":-0.0596},{"s":"B f=0.5","g":"l","x":7.707,"y":-0.0592},{"s":"B f=0.5","g":"l","x":7.708,"y":-0.0589},{"s":"B f=0.5","g":"l","x":7.709,"y":-0.0585},
{"s":"B f=0.5","g":"l","x":7.71,"y":-0.059},{"s":"B f=0.5","g":"l","x":7.711,"y":-0.0594},{"s":"B f=0.5","g":"l","x":7.712,"y":-0.0593},{"s":"B f=0.5","g":"l","x":7.713,"y":-0.0586},{"s":"B f=0.5","g":"l","x":7.714,"y":-0.0568},{"s":"B f=0.5","g":"l","x":7.715,"y":-0.0545},{"s":"B f=0.5","g":"l","x":7.716,"y":-0.0512},{"s":"B f=0.5","g":"l","x":7.717,"y":-0.0475},{"s":"B f=0.5","g":"l","x":7.718,"y":-0.0425},{"s":"B f=0.5","g":"l","x":7.719,"y":-0.0388},
{"s":"B f=0.5","g":"l","x":7.72,"y":-0.035},{"s":"B f=0.5","g":"l","x":7.721,"y":-0.0328},{"s":"B f=0.5","g":"l","x":7.722,"y":-0.031},{"s":"B f=0.5","g":"l","x":7.723,"y":-0.0345},{"s":"B f=0.5","g":"l","x":7.724,"y":-0.0465},{"s":"B f=0.5","g":"l","x":7.725,"y":-0.0598},{"s":"B f=0.5","g":"l","x":7.726,"y":-0.068},{"s":"B f=0.5","g":"l","x":7.727,"y":-0.0735},{"s":"B f=0.5","g":"l","x":7.728,"y":-0.0702},{"s":"B f=0.5","g":"l","x":7.729,"y":-0.0645},
{"s":"B f=0.5","g":"l","x":7.73,"y":-0.0605},{"s":"B f=0.5","g":"l","x":7.731,"y":-0.0595},{"s":"B f=0.5","g":"l","x":7.732,"y":-0.0612},{"s":"B f=0.5","g":"l","x":7.733,"y":-0.0648},{"s":"B f=0.5","g":"l","x":7.734,"y":-0.0678},{"s":"B f=0.5","g":"l","x":7.735,"y":-0.0676},{"s":"B f=0.5","g":"l","x":7.736,"y":-0.0672},{"s":"B f=0.5","g":"l","x":7.737,"y":-0.0668},{"s":"B f=0.5","g":"l","x":7.738,"y":-0.0645},{"s":"B f=0.5","g":"l","x":7.739,"y":-0.0628},
{"s":"B f=0.5","g":"l","x":7.74,"y":-0.063},{"s":"B f=0.5","g":"l","x":7.741,"y":-0.0633},{"s":"B f=0.5","g":"l","x":7.742,"y":-0.064},{"s":"B f=0.5","g":"l","x":7.743,"y":-0.0648},{"s":"B f=0.5","g":"l","x":7.744,"y":-0.0643},{"s":"B f=0.5","g":"l","x":7.745,"y":-0.064},{"s":"B f=0.5","g":"l","x":7.746,"y":-0.0637},{"s":"B f=0.5","g":"l","x":7.747,"y":-0.0633},{"s":"B f=0.5","g":"l","x":7.748,"y":-0.0628},{"s":"B f=0.5","g":"l","x":7.749,"y":-0.0624},{"s":"B f=0.5","g":"l","x":7.75,"y":-0.062},
{"s":"2.10, 2.70 Rb","g":"m","x":7.7,"y":-0.06},{"s":"2.10, 2.70 Rb","g":"m","x":7.701,"y":-0.06},{"s":"2.10, 2.70 Rb","g":"m","x":7.702,"y":-0.0599},{"s":"2.10, 2.70 Rb","g":"m","x":7.703,"y":-0.06},{"s":"2.10, 2.70 Rb","g":"m","x":7.704,"y":-0.0599},{"s":"2.10, 2.70 Rb","g":"m","x":7.705,"y":-0.0599},{"s":"2.10, 2.70 Rb","g":"m","x":7.706,"y":-0.0598},{"s":"2.10, 2.70 Rb","g":"m","x":7.707,"y":-0.0598},{"s":"2.10, 2.70 Rb","g":"m","x":7.708,"y":-0.0598},{"s":"2.10, 2.70 Rb","g":"m","x":7.709,"y":-0.0598},
{"s":"2.10, 2.70 Rb","g":"m","x":7.71,"y":-0.0597},{"s":"2.10, 2.70 Rb","g":"m","x":7.711,"y":-0.0597},{"s":"2.10, 2.70 Rb","g":"m","x":7.712,"y":-0.0597},{"s":"2.10, 2.70 Rb","g":"m","x":7.713,"y":-0.0598},{"s":"2.10, 2.70 Rb","g":"m","x":7.714,"y":-0.0594},{"s":"2.10, 2.70 Rb","g":"m","x":7.715,"y":-0.059},{"s":"2.10, 2.70 Rb","g":"m","x":7.716,"y":-0.0575},{"s":"2.10, 2.70 Rb","g":"m","x":7.717,"y":-0.0545},{"s":"2.10, 2.70 Rb","g":"m","x":7.718,"y":-0.0485},{"s":"2.10, 2.70 Rb","g":"m","x":7.719,"y":-0.0395},
{"s":"2.10, 2.70 Rb","g":"m","x":7.72,"y":-0.032},{"s":"2.10, 2.70 Rb","g":"m","x":7.721,"y":-0.0288},{"s":"2.10, 2.70 Rb","g":"m","x":7.722,"y":-0.0305},{"s":"2.10, 2.70 Rb","g":"m","x":7.723,"y":-0.036},{"s":"2.10, 2.70 Rb","g":"m","x":7.724,"y":-0.046},{"s":"2.10, 2.70 Rb","g":"m","x":7.725,"y":-0.0595},{"s":"2.10, 2.70 Rb","g":"m","x":7.726,"y":-0.0728},{"s":"2.10, 2.70 Rb","g":"m","x":7.727,"y":-0.0778},{"s":"2.10, 2.70 Rb","g":"m","x":7.728,"y":-0.0745},{"s":"2.10, 2.70 Rb","g":"m","x":7.729,"y":-0.0672},
{"s":"2.10, 2.70 Rb","g":"m","x":7.73,"y":-0.0608},{"s":"2.10, 2.70 Rb","g":"m","x":7.731,"y":-0.0582},{"s":"2.10, 2.70 Rb","g":"m","x":7.732,"y":-0.0593},{"s":"2.10, 2.70 Rb","g":"m","x":7.733,"y":-0.0655},{"s":"2.10, 2.70 Rb","g":"m","x":7.734,"y":-0.0725},{"s":"2.10, 2.70 Rb","g":"m","x":7.735,"y":-0.0745},{"s":"2.10, 2.70 Rb","g":"m","x":7.736,"y":-0.0728},{"s":"2.10, 2.70 Rb","g":"m","x":7.737,"y":-0.0702},{"s":"2.10, 2.70 Rb","g":"m","x":7.738,"y":-0.0675},{"s":"2.10, 2.70 Rb","g":"m","x":7.739,"y":-0.0663},
{"s":"2.10, 2.70 Rb","g":"m","x":7.74,"y":-0.066},{"s":"2.10, 2.70 Rb","g":"m","x":7.741,"y":-0.0662},{"s":"2.10, 2.70 Rb","g":"m","x":7.742,"y":-0.0668},{"s":"2.10, 2.70 Rb","g":"m","x":7.743,"y":-0.0674},{"s":"2.10, 2.70 Rb","g":"m","x":7.744,"y":-0.0678},{"s":"2.10, 2.70 Rb","g":"m","x":7.745,"y":-0.068},{"s":"2.10, 2.70 Rb","g":"m","x":7.746,"y":-0.068},{"s":"2.10, 2.70 Rb","g":"m","x":7.747,"y":-0.0677},{"s":"2.10, 2.70 Rb","g":"m","x":7.748,"y":-0.0672},{"s":"2.10, 2.70 Rb","g":"m","x":7.749,"y":-0.0667},{"s":"2.10, 2.70 Rb","g":"m","x":7.75,"y":-0.066}
]
},
"hconcat": [
{
 "vconcat": [
 {
  "width": 296, "height": 183,
  "encoding": {
   "x": {"field": "x", "type": "quantitative", "scale": {"domain": [7.7, 7.75], "nice": false, "zero": false}, "axis": {"title": null, "labels": false, "values": [7.7, 7.71, 7.72, 7.73, 7.74, 7.75]}},
   "y": {"field": "y", "type": "quantitative", "scale": {"domain": [0, 0.14], "nice": false}, "axis": {"title": "S (Mbarn)", "values": [0, 0.02, 0.04, 0.06, 0.08, 0.1, 0.12, 0.14], "format": ".2~f"}},
   "color": {"field": "s", "type": "nominal", "scale": {"domain": ["GS", "1.975,1.975 GS", "B f=0.5", "2.70, 2.00 Rb", "2.60, 2.00 Rb"], "range": ["#2020e0", "#1a90ff", "#808080", "#cc1fe8", "#38e6c8"]},
    "legend": {"title": null, "orient": "none", "legendX": 312, "legendY": -8, "direction": "vertical", "symbolType": "stroke", "symbolSize": 1024, "symbolStrokeWidth": 2, "labelFontSize": 19, "labelOffset": 5, "rowPadding": 14, "padding": 0, "labelLimit": 300}},
   "strokeDash": {"field": "s", "type": "nominal", "scale": {"domain": ["GS", "1.975,1.975 GS", "B f=0.5", "2.70, 2.00 Rb", "2.60, 2.00 Rb"], "range": [[1, 0], [1, 0], [1, 0], [1, 0], [12, 6]]},
    "legend": {"title": null, "orient": "none", "legendX": 312, "legendY": -8, "direction": "vertical", "symbolType": "stroke", "symbolSize": 1024, "symbolStrokeWidth": 2, "labelFontSize": 19, "labelOffset": 5, "rowPadding": 14, "padding": 0, "labelLimit": 300}}
  },
  "layer": [
   {"data": {"name": "common"}, "mark": {"type": "line", "strokeWidth": 2.2, "interpolate": "monotone"}},
   {"data": {"name": "rbL"}, "mark": {"type": "line", "strokeWidth": 2.2, "interpolate": "monotone"}}
  ]
 },
 {
  "width": 309, "height": 166,
  "encoding": {
   "y": {"field": "y", "type": "quantitative", "scale": {"domain": [-0.08, 0.04], "nice": false, "zero": false}, "axis": {"title": "ΔS", "values": [-0.08, -0.06, -0.04, -0.02, 0, 0.02, 0.04], "labelExpr": "(datum.value < 0 ? '-' : '') + format(abs(datum.value), '.2~f')"}}
  },
  "layer": [
   {"data": {"values": [{"y": 0}, {"y": -0.06}]}, "mark": {"type": "rule", "color": "#3a3a3a", "strokeWidth": 1.5}},
   {"data": {"name": "botL"}, "mark": {"type": "line", "strokeWidth": 2.2, "interpolate": "monotone"},
    "encoding": {
     "x": {"field": "x", "type": "quantitative", "scale": {"domain": [7.7, 7.75], "nice": false, "zero": false}, "axis": {"title": "X-ray Energy (keV)", "values": [7.7, 7.71, 7.72, 7.73, 7.74, 7.75], "format": ".2~f"}},
     "color": {"field": "s", "type": "nominal", "scale": {"domain": ["B f=0.5", "2.60, 2.00 Rb", "2.70, 2.00 Rb"], "range": ["#808080", "#38e6c8", "#cc1fe8"]},
      "legend": {"title": null, "orient": "none", "legendX": 343, "legendY": 24.5, "direction": "vertical", "values": ["2.60, 2.00 Rb", "2.70, 2.00 Rb"], "symbolType": "stroke", "symbolSize": 625, "symbolStrokeWidth": 2, "labelFontSize": 19, "labelOffset": 3, "rowPadding": 79, "padding": 0, "labelLimit": 300}},
     "detail": {"field": "g", "type": "nominal"}
    }}
  ]
 }
 ],
 "spacing": 17,
 "resolve": {"scale": {"color": "independent", "strokeDash": "independent", "x": "independent", "y": "independent"}}
},
{
 "vconcat": [
 {
  "width": 296, "height": 183,
  "encoding": {
   "x": {"field": "x", "type": "quantitative", "scale": {"domain": [7.7, 7.75], "nice": false, "zero": false}, "axis": {"title": null, "labels": false, "values": [7.7, 7.71, 7.72, 7.73, 7.74, 7.75]}},
   "y": {"field": "y", "type": "quantitative", "scale": {"domain": [0, 0.14], "nice": false}, "axis": {"title": "S (Mbarn)", "values": [0, 0.02, 0.04, 0.06, 0.08, 0.1, 0.12, 0.14], "format": ".2~f"}},
   "color": {"field": "s", "type": "nominal", "scale": {"domain": ["GS", "1.975,1.975 GS", "B f=0.5", "2.10, 2.70 Rb", "2.00, 2.60 Rb"], "range": ["#2020e0", "#1a90ff", "#808080", "#cc1fe8", "#38e6c8"]},
    "legend": {"title": null, "orient": "none", "legendX": 314, "legendY": -4, "direction": "vertical", "symbolType": "stroke", "symbolSize": 1024, "symbolStrokeWidth": 2, "labelFontSize": 19, "labelOffset": 5, "rowPadding": 15.5, "padding": 0, "labelLimit": 300}},
   "strokeDash": {"field": "s", "type": "nominal", "scale": {"domain": ["GS", "1.975,1.975 GS", "B f=0.5", "2.10, 2.70 Rb", "2.00, 2.60 Rb"], "range": [[1, 0], [1, 0], [1, 0], [1, 0], [12, 6]]},
    "legend": {"title": null, "orient": "none", "legendX": 314, "legendY": -4, "direction": "vertical", "symbolType": "stroke", "symbolSize": 1024, "symbolStrokeWidth": 2, "labelFontSize": 19, "labelOffset": 5, "rowPadding": 15.5, "padding": 0, "labelLimit": 300}}
  },
  "layer": [
   {"data": {"name": "common"}, "mark": {"type": "line", "strokeWidth": 2.2, "interpolate": "monotone"}},
   {"data": {"name": "rbR"}, "mark": {"type": "line", "strokeWidth": 2.2, "interpolate": "monotone"}}
  ]
 },
 {
  "width": 305, "height": 166,
  "encoding": {
   "y": {"field": "y", "type": "quantitative", "scale": {"domain": [-0.08, 0.04], "nice": false, "zero": false}, "axis": {"title": "ΔS", "values": [-0.08, -0.06, -0.04, -0.02, 0, 0.02, 0.04], "labelExpr": "(datum.value < 0 ? '-' : '') + format(abs(datum.value), '.2~f')"}}
  },
  "layer": [
   {"data": {"values": [{"y": 0}, {"y": -0.06}]}, "mark": {"type": "rule", "color": "#3a3a3a", "strokeWidth": 1.5}},
   {"data": {"name": "botR"}, "mark": {"type": "line", "strokeWidth": 2.2, "interpolate": "monotone"},
    "encoding": {
     "x": {"field": "x", "type": "quantitative", "scale": {"domain": [7.7, 7.75], "nice": false, "zero": false}, "axis": {"title": "X-ray Energy (keV)", "values": [7.7, 7.71, 7.72, 7.73, 7.74, 7.75], "format": ".2~f"}},
     "color": {"field": "s", "type": "nominal", "scale": {"domain": ["B f=0.5", "2.00, 2.60 Rb", "2.10, 2.70 Rb"], "range": ["#808080", "#38e6c8", "#cc1fe8"]},
      "legend": {"title": null, "orient": "none", "legendX": 342, "legendY": 14, "direction": "vertical", "values": ["2.00, 2.60 Rb", "2.10, 2.70 Rb"], "symbolType": "stroke", "symbolSize": 576, "symbolStrokeWidth": 2, "labelFontSize": 19, "labelOffset": 3, "rowPadding": 86, "padding": 0, "labelLimit": 300}},
     "detail": {"field": "g", "type": "nominal"}
    }}
  ]
 }
 ],
 "spacing": 17,
 "resolve": {"scale": {"color": "independent", "strokeDash": "independent", "x": "independent", "y": "independent"}}
}
],
"spacing": 27,
"resolve": {"scale": {"color": "independent", "strokeDash": "independent"}}
}
